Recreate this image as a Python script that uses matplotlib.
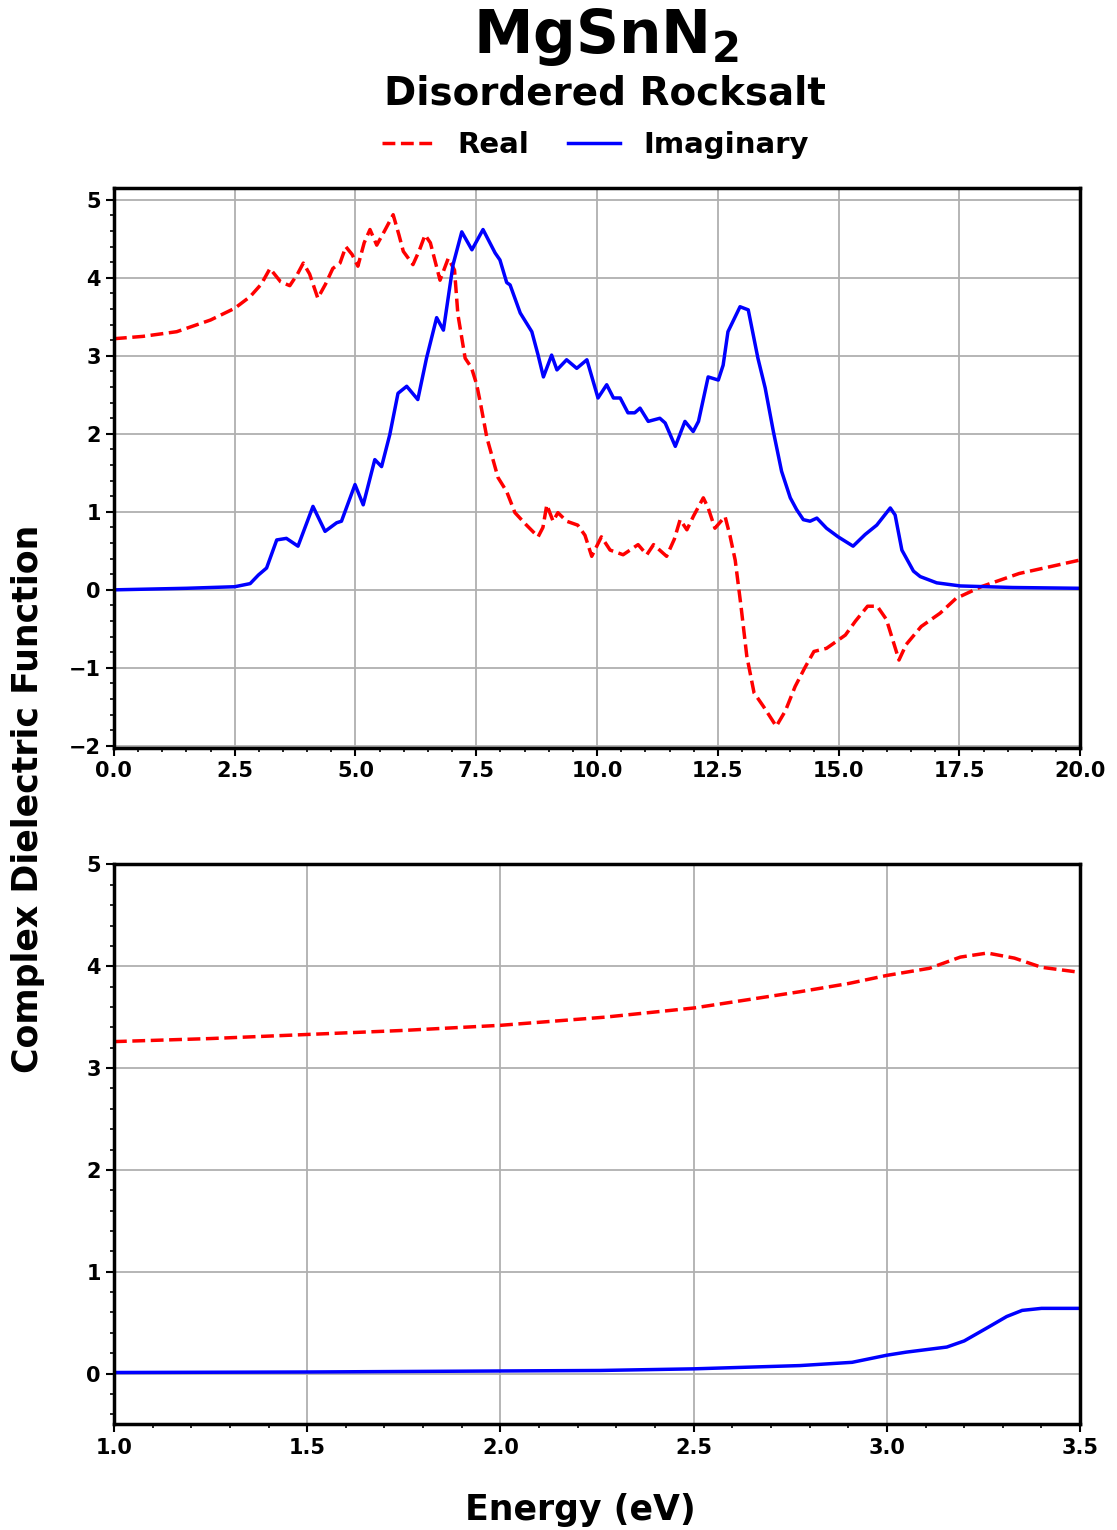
import matplotlib
matplotlib.use('Agg')
import matplotlib.pyplot as plt
from matplotlib.ticker import MultipleLocator

# full range spectrum (eV)
e_real = [0.0, 0.6, 1.3, 2.0, 2.5, 2.82, 3.05, 3.23, 3.45, 3.64, 3.8, 3.92, 4.05, 4.22, 4.38,
          4.53, 4.68, 4.8, 4.93, 5.05, 5.18, 5.3, 5.44, 5.6, 5.78, 5.9, 5.99, 6.19, 6.32, 6.44,
          6.55, 6.75, 6.92, 7.05, 7.12, 7.27, 7.4, 7.51, 7.6, 7.72, 7.95, 8.13, 8.3, 8.54, 8.78,
          8.88, 8.96, 9.09, 9.19, 9.37, 9.6, 9.75, 9.89, 10.09, 10.27, 10.54, 10.85, 11.03, 11.17,
          11.44, 11.6, 11.72, 11.86, 12.0, 12.2, 12.3, 12.44, 12.65, 12.75, 12.86, 12.98, 13.1,
          13.25, 13.45, 13.71, 13.9, 14.1, 14.3, 14.49, 14.75, 15.14, 15.35, 15.6, 15.8, 15.99,
          16.1, 16.25, 16.4, 16.71, 17.1, 17.43, 17.95, 18.74, 19.4, 19.98]
eps_real = [3.22, 3.25, 3.31, 3.46, 3.61, 3.76, 3.92, 4.12, 3.95, 3.9, 4.05, 4.19, 4.05, 3.74, 3.92,
            4.12, 4.19, 4.4, 4.3, 4.15, 4.45, 4.62, 4.42, 4.6, 4.81, 4.55, 4.34, 4.17, 4.35, 4.55,
            4.45, 3.97, 4.25, 4.1, 3.53, 2.97, 2.85, 2.63, 2.35, 1.95, 1.44, 1.26, 0.99, 0.83, 0.68,
            0.8, 1.09, 0.88, 0.99, 0.88, 0.83, 0.7, 0.43, 0.68, 0.51, 0.45, 0.58, 0.45, 0.58,
            0.43, 0.65, 0.9, 0.77, 0.95, 1.18, 1.05, 0.79, 0.94, 0.7, 0.38, -0.21, -0.85,
            -1.32, -1.5, -1.75, -1.55, -1.24, -1.0, -0.79, -0.75, -0.58, -0.4, -0.21, -0.21, -0.38,
            -0.6, -0.9, -0.7, -0.47, -0.3, -0.11, 0.04, 0.21, 0.3, 0.38]

e_imag = [0.0, 1.5, 2.5, 2.82, 2.99, 3.16, 3.37, 3.57, 3.81, 4.12, 4.37, 4.61, 4.71, 4.99, 5.16,
          5.4, 5.54, 5.71, 5.88, 6.06, 6.29, 6.47, 6.68, 6.82, 7.02, 7.2, 7.41, 7.64, 7.89, 7.99,
          8.13, 8.2, 8.41, 8.65, 8.78, 8.89, 9.06, 9.17, 9.37, 9.58, 9.79, 10.02, 10.2, 10.34,
          10.48, 10.64, 10.78, 10.89, 11.06, 11.3, 11.41, 11.62, 11.82, 11.99, 12.1, 12.3, 12.51,
          12.61, 12.71, 12.96, 13.13, 13.33, 13.48, 13.65, 13.82, 14.0, 14.13, 14.27, 14.41,
          14.55, 14.75, 14.99, 15.3, 15.55, 15.79, 16.07, 16.17, 16.31, 16.55, 16.69, 17.03,
          17.52, 18.6, 20.0]
eps_imag = [0.0, 0.02, 0.04, 0.08, 0.19, 0.28, 0.64, 0.66, 0.56, 1.07, 0.75, 0.86, 0.88, 1.35, 1.09,
            1.67, 1.58, 1.99, 2.52, 2.61, 2.44, 2.97, 3.49, 3.33, 4.17, 4.59, 4.36, 4.62, 4.32, 4.23,
            3.94, 3.91, 3.55, 3.31, 3.01, 2.73, 3.01, 2.82, 2.95, 2.84, 2.95, 2.46, 2.63, 2.46,
            2.46, 2.27, 2.27, 2.33, 2.16, 2.2, 2.14, 1.84, 2.16, 2.03, 2.16, 2.73, 2.69,
            2.88, 3.31, 3.63, 3.59, 2.97, 2.59, 2.03, 1.52, 1.18, 1.03, 0.9, 0.88,
            0.92, 0.79, 0.68, 0.56, 0.71, 0.83, 1.05, 0.96, 0.51, 0.24, 0.17, 0.09,
            0.05, 0.03, 0.02]

# low energy zoom (eV)
e_low_real = [1.0, 1.25, 1.5, 1.75, 2.0, 2.27, 2.5, 2.775, 2.9, 3.0, 3.11, 3.19, 3.26, 3.33, 3.4, 3.5]
eps_low_real = [3.26, 3.29, 3.33, 3.37, 3.42, 3.50, 3.59, 3.75, 3.83, 3.91, 3.98, 4.09, 4.13, 4.08, 3.99, 3.94]
e_low_imag = [1.0, 1.5, 2.0, 2.258, 2.5, 2.775, 2.91, 3.0, 3.05, 3.155, 3.2, 3.26, 3.31, 3.35, 3.4, 3.5]
eps_low_imag = [0.01, 0.015, 0.025, 0.03, 0.046, 0.078, 0.11, 0.18, 0.21, 0.26, 0.32, 0.45, 0.56, 0.62, 0.64, 0.64]

plt.rcParams['font.weight'] = 'bold'
plt.rcParams['axes.labelweight'] = 'bold'
plt.rcParams['font.size'] = 15

fig = plt.figure(figsize=(11.17, 15.3), dpi=100)
ax1 = fig.add_axes([0.102, 0.511, 0.865, 0.366])
ax2 = fig.add_axes([0.102, 0.069, 0.865, 0.366])

style = dict(lw=2.5, solid_joinstyle='round', dash_joinstyle='round')
l1, = ax1.plot(e_real, eps_real, color='red', linestyle='--', label='Real', **style)
l2, = ax1.plot(e_imag, eps_imag, color='blue', linestyle='-', label='Imaginary', **style)
ax2.plot(e_low_real, eps_low_real, color='red', linestyle='--', **style)
ax2.plot(e_low_imag, eps_low_imag, color='blue', linestyle='-', **style)

ax1.set_xlim(0, 20)
ax1.set_ylim(-2.03, 5.15)
ax1.xaxis.set_major_locator(MultipleLocator(2.5))
ax1.xaxis.set_minor_locator(MultipleLocator(0.5))
ax1.yaxis.set_major_locator(MultipleLocator(1))
ax1.yaxis.set_minor_locator(MultipleLocator(0.2))

ax2.set_xlim(1, 3.5)
ax2.set_ylim(-0.5, 5)
ax2.xaxis.set_major_locator(MultipleLocator(0.5))
ax2.xaxis.set_minor_locator(MultipleLocator(0.1))
ax2.yaxis.set_major_locator(MultipleLocator(1))
ax2.yaxis.set_minor_locator(MultipleLocator(0.2))

for ax in (ax1, ax2):
    ax.grid(True, which='major', color='#b0b0b0', lw=1.3)
    for s in ax.spines.values():
        s.set_linewidth(2.5)
    ax.tick_params(which='major', length=6, width=1.5, labelsize=15)
    ax.tick_params(which='minor', length=3, width=1.2)

fig.text(0.025, 0.478, 'Complex Dielectric Function', rotation=90, ha='center', va='center',
         fontsize=25, fontweight='bold')
fig.text(0.52, 0.013, 'Energy (eV)', ha='center', va='center', fontsize=25, fontweight='bold')
fig.text(0.542, 0.976, r'MgSnN$_\mathbf{2}$', ha='center', va='center', fontsize=43, fontweight='bold')
fig.text(0.542, 0.939, 'Disordered Rocksalt', ha='center', va='center', fontsize=28, fontweight='bold')
fig.legend(handles=[l1, l2], loc='center', bbox_to_anchor=(0.533, 0.905), ncol=2, frameon=False,
           fontsize=21, handlelength=1.8, handletextpad=0.8, columnspacing=1.3)

fig.savefig('out.png', dpi=100)
